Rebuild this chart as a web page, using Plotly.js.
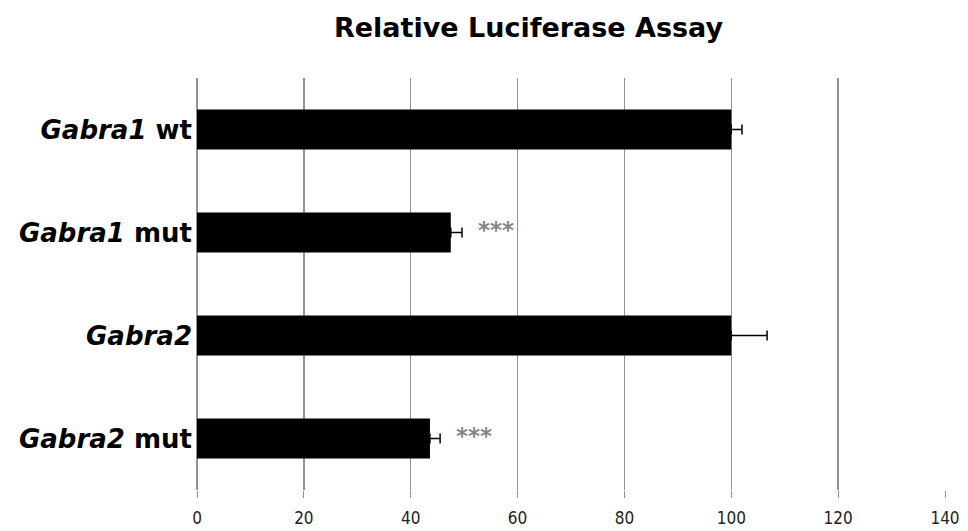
<!DOCTYPE html>
<html>
<head>
<meta charset="utf-8">
<script src="https://cdn.plot.ly/plotly-3.0.1.min.js"></script>
<style>html,body{margin:0;padding:0;background:#fff;}#chart{width:968px;height:531px;}</style>
</head>
<body>
<div id="chart"></div>
<script>
const categories = ["<i>Gabra1</i> wt", "<i>Gabra1</i> mut", "<i>Gabra2</i>", "<i>Gabra2</i> mut"];
const values = [100, 47.5, 100, 43.6];
const errors = [2.0, 2.1, 6.7, 1.9];
const sigLabels = ["", "***", "", "***"];
const tickVals = [0, 20, 40, 60, 80, 100, 120, 140];

const trace = {
  type: "bar",
  orientation: "h",
  y: categories,
  x: values,
  width: 0.39,
  marker: {color: "#000000"},
  error_x: {type: "data", symmetric: false, array: errors, arrayminus: errors.map(() => 0),
            color: "#000000", thickness: 1.5, width: 5},
  hoverinfo: "skip"
};

const annotations = [];
categories.forEach((c, i) => {
  if (sigLabels[i]) {
    annotations.push({x: values[i] + errors[i], y: c, xref: "x", yref: "y", text: sigLabels[i],
      showarrow: false, xanchor: "left", xshift: 14, yshift: 3,
      font: {family: "DejaVu Sans, sans-serif", size: 23, color: "#858585", weight: "bold"}});
  }
});

const layout = {
  width: 968, height: 531,
  margin: {l: 197, r: 23, t: 78, b: 41},
  paper_bgcolor: "#ffffff", plot_bgcolor: "#ffffff",
  showlegend: false,
  title: {text: "<b>Relative Luciferase Assay</b>", x: 0.546, xref: "container", xanchor: "center",
          y: 1 - 28/531, yref: "container", yanchor: "middle",
          font: {family: "DejaVu Sans, sans-serif", size: 27, color: "#000"}},
  xaxis: {range: [0, 140], tickvals: tickVals, ticktext: tickVals.map(String),
          showgrid: true, gridcolor: "#939393", gridwidth: 1.5,
          zeroline: true, zerolinecolor: "#939393", zerolinewidth: 1.5,
          showline: false, ticks: "outside", ticklen: 7, tickcolor: "#939393", tickwidth: 1,
          ticklabelstandoff: 6,
          tickfont: {family: "Liberation Sans Narrow, DejaVu Sans Condensed, sans-serif", size: 17, color: "#222"},
          fixedrange: true},
  yaxis: {type: "category", autorange: "reversed", showgrid: false, zeroline: false, showline: false,
          ticks: "", ticklabelstandoff: 4,
          tickfont: {family: "DejaVu Sans, sans-serif", size: 26, color: "#000", weight: "bold"},
          fixedrange: true},
  annotations: annotations,
  bargap: 0.6
};

Plotly.newPlot("chart", [trace], layout, {displayModeBar: false, staticPlot: true});
</script>
</body>
</html>
